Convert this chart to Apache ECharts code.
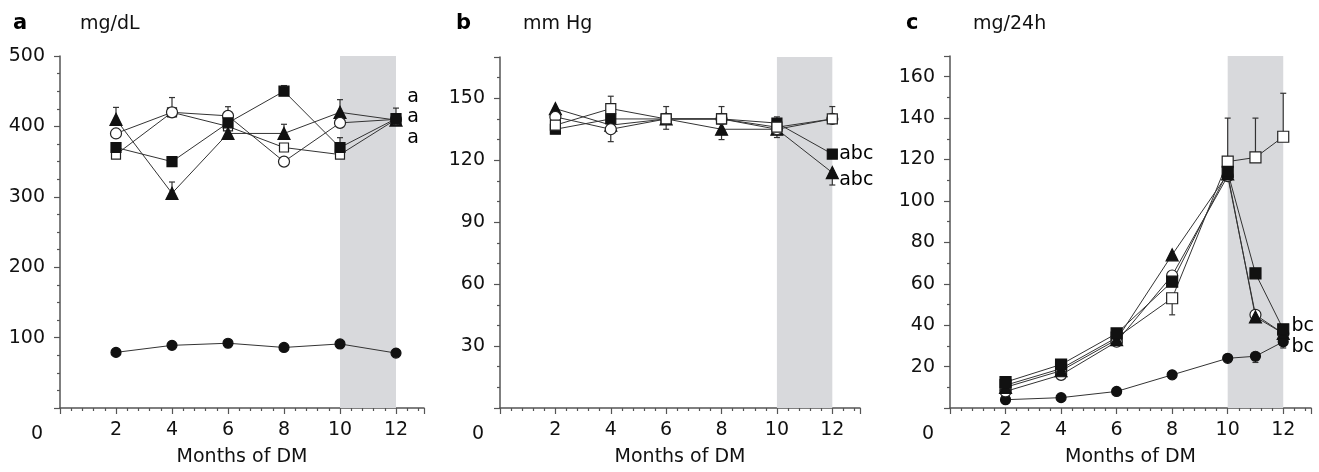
<!DOCTYPE html>
<html>
<head>
<meta charset="utf-8">
<script src="https://cdn.jsdelivr.net/npm/echarts@6/dist/echarts.min.js"></script>
<style>
  html, body { margin: 0; padding: 0; background: #fff; }
  #main { width: 1319px; height: 472px; }
</style>
</head>
<body>
<div id="main"></div>
<script>
var FONT = 'DejaVu Sans';

// months on the x axis
var monthsAB = [2, 4, 6, 8, 10, 12];
var monthsC = [2, 4, 6, 8, 10, 11, 12];
var bandRange = [10, 12];

// panel a, mg/dL
var aControl = [79, 89, 92, 86, 91, 78];
var aOpenSquare = [360, 420, 400, 370, 360, 410];
var aFilledSquare = [370, 350, 405, 450, 370, 411];
var aTriangle = [410, 305, 390, 390, 420, 409];
var aCircle = [390, 420, 415, 350, 405, 410];
// [month, from, to]
var aErrors = [[2, 410, 427], [4, 420, 441], [4, 305, 321], [6, 415, 428], [8, 450, 458],
  [8, 390, 403], [10, 420, 438], [10, 370, 384], [12, 410, 426]];
var aNotes = [[12.4, 442, 'a'], [12.4, 413, 'a'], [12.4, 384, 'a']];

// panel b, mm Hg
var bOpenSquare = [137, 145, 140, 140, 136, 140];
var bFilledSquare = [135, 140, 140, 140, 138, 123];
var bTriangle = [145, 137, 140, 135, 135, 114];
var bCircle = [141, 135, 140, 140, 135, 140];
var bErrors = [[4, 145, 151], [4, 135, 129], [6, 140, 146], [6, 140, 135], [8, 140, 146],
  [8, 135, 130], [10, 136, 141], [10, 135, 131], [12, 140, 146], [12, 114, 108]];
var bNotes = [[12.25, 123, 'abc'], [12.25, 110.5, 'abc']];

// panel c, mg/24h
var cControl = [4, 5, 8, 16, 24, 25, 32];
var cOpenSquare = [11, 19, 34, 53, 119, 121, 131];
var cFilledSquare = [12.5, 21, 36, 61, 114, 65, 38];
var cTriangle = [10, 18, 33, 74, 113, 44, 36];
var cCircle = [8, 16, 32, 64, 112, 45, 36];
var cErrors = [[10, 119, 140], [11, 121, 140], [12, 131, 152], [8, 53, 45], [8, 16, 18],
  [11, 25, 22], [12, 32, 29]];
var cNotes = [[12.3, 39.8, 'bc'], [12.3, 29.2, 'bc']];

var chart = echarts.init(document.getElementById('main'));

var axisColor = '#555';
var textColor = '#111';

function pairs(xs, ys) {
  return xs.map(function (x, i) { return [x, ys[i]]; });
}

var markerStyles = {
  control: { symbol: 'circle', symbolSize: 10, color: '#111', border: '#111' },
  openSquare: { symbol: 'rect', symbolSize: 9, color: '#fff', border: '#222' },
  filledSquare: { symbol: 'rect', symbolSize: 10, color: '#111', border: '#111' },
  triangle: { symbol: 'triangle', symbolSize: 12, color: '#111', border: '#111' },
  circle: { symbol: 'circle', symbolSize: 11, color: '#fff', border: '#222' }
};

function lineSeries(idx, kind, xs, ys, extra) {
  var m = markerStyles[kind];
  var s = {
    type: 'line',
    xAxisIndex: idx,
    yAxisIndex: idx,
    data: pairs(xs, ys),
    symbol: m.symbol,
    symbolSize: m.symbolSize,
    showAllSymbol: true,
    z: 3,
    lineStyle: { color: '#333', width: 1 },
    itemStyle: { color: m.color, borderColor: m.border, borderWidth: 1.2 },
    emphasis: { disabled: true },
    animation: false
  };
  if (extra) {
    for (var k in extra) s[k] = extra[k];
  }
  return s;
}

function bandSeries(idx) {
  return {
    type: 'line',
    xAxisIndex: idx,
    yAxisIndex: idx,
    data: [],
    silent: true,
    markArea: {
      silent: true,
      itemStyle: { color: '#d8d9dc' },
      data: [[{ xAxis: bandRange[0] }, { xAxis: bandRange[1] }]]
    },
    z: 1
  };
}

function errorSeries(idx, data) {
  return {
    type: 'custom',
    xAxisIndex: idx,
    yAxisIndex: idx,
    data: data,
    z: 2,
    silent: true,
    animation: false,
    renderItem: function (params, api) {
      var p0 = api.coord([api.value(0), api.value(1)]);
      var p1 = api.coord([api.value(0), api.value(2)]);
      var st = { stroke: '#333', lineWidth: 1.2 };
      return {
        type: 'group',
        children: [
          { type: 'line', shape: { x1: p0[0], y1: p0[1], x2: p1[0], y2: p1[1] }, style: st },
          { type: 'line', shape: { x1: p1[0] - 3, y1: p1[1], x2: p1[0] + 3, y2: p1[1] }, style: st }
        ]
      };
    }
  };
}

function noteSeries(idx, data) {
  return {
    type: 'scatter',
    xAxisIndex: idx,
    yAxisIndex: idx,
    data: data,
    symbolSize: 0,
    silent: true,
    z: 5,
    itemStyle: { opacity: 1, color: textColor },
    label: {
      show: true,
      position: 'right',
      distance: 0,
      opacity: 1,
      fontFamily: FONT,
      fontSize: 19,
      color: '#000',
      textBorderWidth: 0,
      formatter: function (p) { return p.value[2]; }
    }
  };
}

function xAxis(idx) {
  return {
    type: 'value',
    gridIndex: idx,
    min: 0,
    max: 13,
    interval: 2,
    axisLine: { onZero: false, lineStyle: { color: axisColor, width: 1.5 } },
    axisTick: { length: 6, lineStyle: { color: axisColor, width: 1.2 } },
    minorTick: { show: true, splitNumber: 5, length: 3, lineStyle: { color: axisColor, width: 1.2 } },
    splitLine: { show: false },
    axisLabel: {
      fontFamily: FONT, fontSize: 19, color: textColor, margin: 13,
      showMaxLabel: false,
      formatter: function (v) { return v === 0 ? '' : String(v); }
    },
    name: 'Months of DM',
    nameLocation: 'middle',
    nameGap: 40,
    nameTextStyle: { fontFamily: FONT, fontSize: 19, color: textColor }
  };
}

function yAxis(idx, max, interval, minorSplit) {
  return {
    type: 'value',
    gridIndex: idx,
    min: 0,
    max: max,
    interval: interval,
    axisLine: { show: true, onZero: false, lineStyle: { color: axisColor, width: 1.5 } },
    axisTick: { show: true, length: 6, lineStyle: { color: axisColor, width: 1.2 } },
    minorTick: { show: true, splitNumber: minorSplit, length: 3, lineStyle: { color: axisColor, width: 1.2 } },
    splitLine: { show: false },
    axisLabel: {
      fontFamily: FONT, fontSize: 19, color: textColor, margin: 15,
      showMinLabel: false, showMaxLabel: max % interval === 0
    }
  };
}

function panelTitle(letter, unit, x) {
  return [
    { text: letter, left: x, top: 8, textStyle: { fontFamily: FONT, fontSize: 21, fontWeight: 'bold', color: '#000' } },
    { text: unit, left: x + 67, top: 10, textStyle: { fontFamily: FONT, fontSize: 19, fontWeight: 'normal', color: textColor } }
  ];
}

var option = {
  backgroundColor: '#fff',
  animation: false,
  title: [].concat(
    panelTitle('a', 'mg/dL', 8),
    panelTitle('b', 'mm Hg', 451),
    panelTitle('c', 'mg/24h', 901)
  ),
  grid: [
    { left: 60, top: 56, width: 364, height: 355 },
    { left: 500, top: 57, width: 360, height: 354 },
    { left: 950, top: 56, width: 361, height: 355 }
  ],
  xAxis: [xAxis(0), xAxis(1), xAxis(2)],
  yAxis: [yAxis(0, 500, 100, 4), yAxis(1, 170, 30, 3), yAxis(2, 170, 20, 2)],
  graphic: [
    { type: 'text', left: 31, top: 425, style: { text: '0', font: '19px "DejaVu Sans"', fill: textColor } },
    { type: 'text', left: 472, top: 425, style: { text: '0', font: '19px "DejaVu Sans"', fill: textColor } },
    { type: 'text', left: 922, top: 425, style: { text: '0', font: '19px "DejaVu Sans"', fill: textColor } }
  ],
  series: [
    bandSeries(0),
    errorSeries(0, aErrors),
    lineSeries(0, 'control', monthsAB, aControl),
    lineSeries(0, 'openSquare', monthsAB, aOpenSquare),
    lineSeries(0, 'triangle', monthsAB, aTriangle),
    lineSeries(0, 'circle', monthsAB, aCircle),
    lineSeries(0, 'filledSquare', monthsAB, aFilledSquare),
    noteSeries(0, aNotes),

    bandSeries(1),
    errorSeries(1, bErrors),
    lineSeries(1, 'filledSquare', monthsAB, bFilledSquare),
    lineSeries(1, 'triangle', monthsAB, bTriangle),
    lineSeries(1, 'circle', monthsAB, bCircle),
    lineSeries(1, 'openSquare', monthsAB, bOpenSquare, { symbolSize: 10 }),
    noteSeries(1, bNotes),

    bandSeries(2),
    errorSeries(2, cErrors),
    lineSeries(2, 'control', monthsC, cControl),
    lineSeries(2, 'openSquare', monthsC, cOpenSquare, { symbolSize: 11 }),
    lineSeries(2, 'circle', monthsC, cCircle),
    lineSeries(2, 'triangle', monthsC, cTriangle),
    lineSeries(2, 'filledSquare', monthsC, cFilledSquare, { symbolSize: 11 }),
    noteSeries(2, cNotes)
  ]
};

chart.setOption(option);
</script>
</body>
</html>
